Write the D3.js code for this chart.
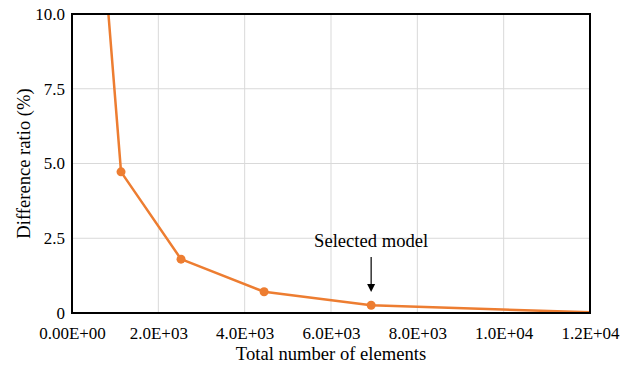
<!DOCTYPE html>
<html><head><meta charset="utf-8">
<script src="https://cdn.jsdelivr.net/npm/d3@7"></script>
<style>body{margin:0;background:#fff}</style>
</head><body><svg id="c" width="630" height="365"></svg>
<script>
const elements = [700, 1136, 2526, 4450, 6930, 12500];
const diffRatio = [12.6, 4.72, 1.80, 0.71, 0.26, 0.0];
const xTicks = [0, 2000, 4000, 6000, 8000, 10000, 12000];
const xTickLabels = ["0.00E+00", "2.0E+03", "4.0E+03", "6.0E+03", "8.0E+03", "1.0E+04", "1.2E+04"];
const yTicks = [0, 2.5, 5, 7.5, 10];
const yTickLabels = ["0", "2.5", "5.0", "7.5", "10.0"];
const selected = {x: 6930, y: 0.26, label: "Selected model"};

const FONT = '"Liberation Serif", "Times New Roman", serif';
const FS = "17px";
const FT = "18.6px";
const svg = d3.select("#c");
const m = {l: 72, r: 590, t: 14, b: 313};
const x = d3.scaleLinear().domain([0, 12000]).range([m.l, m.r]);
const y = d3.scaleLinear().domain([0, 10]).range([m.b, m.t]);
const color = "#ED7D31";

svg.append("g").selectAll("line").data(xTicks.slice(1, -1)).join("line")
  .attr("x1", d => x(d)).attr("x2", d => x(d)).attr("y1", m.t).attr("y2", m.b)
  .attr("stroke", "#d9d9d9").attr("stroke-width", 1);
svg.append("g").selectAll("line").data(yTicks.slice(1, -1)).join("line")
  .attr("y1", d => y(d)).attr("y2", d => y(d)).attr("x1", m.l).attr("x2", m.r)
  .attr("stroke", "#d9d9d9").attr("stroke-width", 1);

svg.append("defs").append("clipPath").attr("id", "clip").append("rect")
  .attr("x", m.l).attr("y", m.t).attr("width", m.r - m.l).attr("height", m.b - m.t);

const pts = elements.map((e, i) => [e, diffRatio[i]]);
const g = svg.append("g").attr("clip-path", "url(#clip)");
g.append("path").datum(pts)
  .attr("d", d3.line().x(d => x(d[0])).y(d => y(d[1])))
  .attr("fill", "none").attr("stroke", color).attr("stroke-width", 2.5).attr("stroke-linejoin", "round");
g.selectAll("circle").data(pts).join("circle")
  .attr("cx", d => x(d[0])).attr("cy", d => y(d[1])).attr("r", 4.5).attr("fill", color);

svg.append("rect").attr("x", m.l).attr("y", m.t).attr("width", m.r - m.l).attr("height", m.b - m.t)
  .attr("fill", "none").attr("stroke", "#000").attr("stroke-width", 2);

const xAxis = d3.axisBottom(x).tickValues(xTicks).tickFormat((d, i) => xTickLabels[i]).tickSize(0).tickPadding(14);
const gx = svg.append("g").attr("transform", `translate(0,${m.b})`).call(xAxis);
gx.select(".domain").remove();
gx.selectAll("text").style("font-family", FONT).style("font-size", FS).attr("fill", "#000");
const yAxis = d3.axisLeft(y).tickValues(yTicks).tickFormat((d, i) => yTickLabels[i]).tickSize(0).tickPadding(7);
const gy = svg.append("g").attr("transform", `translate(${m.l},0)`).call(yAxis);
gy.select(".domain").remove();
gy.selectAll("text").style("font-family", FONT).style("font-size", FS).attr("fill", "#000");

svg.append("text").attr("x", (m.l + m.r) / 2).attr("y", 360).attr("text-anchor", "middle")
  .style("font-family", FONT).style("font-size", FT).text("Total number of elements");
svg.append("text").attr("transform", `translate(30,${(m.t + m.b) / 2}) rotate(-90)`)
  .attr("text-anchor", "middle").style("font-family", FONT).style("font-size", FT).text("Difference ratio (%)");

const ax = x(selected.x);
svg.append("text").attr("x", ax).attr("y", 247).attr("text-anchor", "middle")
  .style("font-family", FONT).style("font-size", FT).text(selected.label);
svg.append("line").attr("x1", ax).attr("x2", ax).attr("y1", 257).attr("y2", 286).attr("stroke", "#000").attr("stroke-width", 1.2);
svg.append("path").attr("d", `M${ax - 4},284 L${ax + 4},284 L${ax},292 Z`).attr("fill", "#000");
</script></body></html>
